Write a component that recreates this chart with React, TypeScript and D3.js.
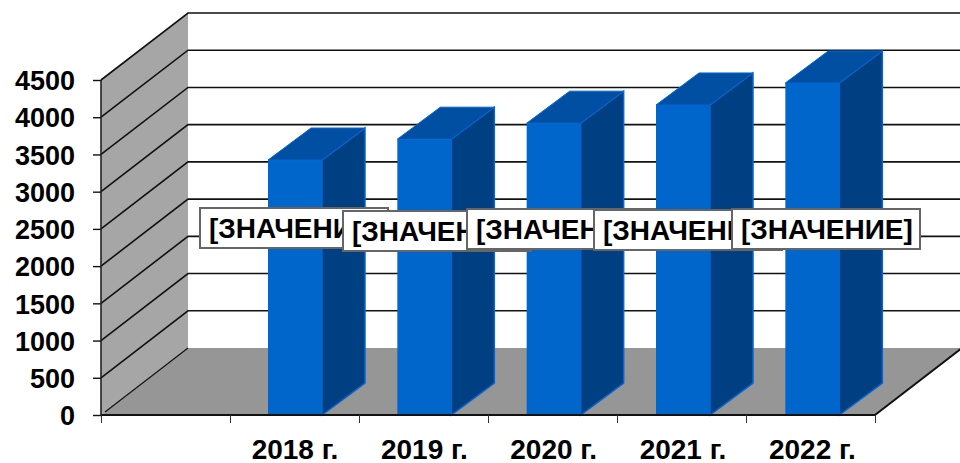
import React, { useEffect, useRef } from 'react'
import * as d3 from 'd3'

const categories = ['', '2018 г.', '2019 г.', '2020 г.', '2021 г.', '2022 г.']
const values = [3425, 3705, 3920, 4165, 4460]
const years = categories.slice(1)
const yTicks = [0, 500, 1000, 1500, 2000, 2500, 3000, 3500, 4000, 4500]
const labelText = '[ЗНАЧЕНИЕ]'

// chart geometry
const left = 101
const right = 875
const bottom = 415
const top = 80
const depthX = 87
const depthY = 67
const barWidth = 54
const barDepthX = 43
const barDepthY = 32
const labelLefts = [200, 343, 467, 594, 732]
const labelTops = [208, 211, 209, 210, 209]
const labelWidth = 188
const labelHeight = 40
const font = '"Liberation Sans", Arial, sans-serif'

export default function App() {
  const svgRef = useRef<SVGSVGElement>(null)

  useEffect(() => {
    const svg = d3.select(svgRef.current)
    svg.selectAll('*').remove()

    const yScale = d3.scaleLinear().domain([0, 4500]).range([bottom, top])
    const xScale = d3.scaleBand().domain(categories).range([left, right + 2])
    const edgeScale = d3.scaleLinear().domain([0, categories.length]).range([left, right])
    const line = d3.line()

    // side wall and floor
    svg.append('path')
      .attr('d', line([[left, top], [left + depthX, top - depthY], [left + depthX, bottom - depthY], [left, bottom]]) + 'Z')
      .attr('fill', '#a6a6a6')
    svg.append('path')
      .attr('d', line([[left, bottom], [left + depthX, bottom - depthY], [right + depthX, bottom - depthY], [right, bottom]]) + 'Z')
      .attr('fill', '#969696')

    // gridlines on both walls
    svg.selectAll('.grid')
      .data(yTicks.slice(1))
      .join('path')
      .attr('class', 'grid')
      .attr('d', d => line([[left, yScale(d)], [left + depthX, yScale(d) - depthY], [960, yScale(d) - depthY]]))
      .attr('fill', 'none')
      .attr('stroke', '#111')
      .attr('stroke-width', 1.6)
    svg.append('path')
      .attr('d', line([[left + 4, bottom - 3], [left + depthX, bottom - depthY]]))
      .attr('stroke', '#111')
      .attr('stroke-width', 1.2)
    svg.append('path')
      .attr('d', line([[right, bottom], [right + depthX, bottom - depthY]]))
      .attr('stroke', '#111')
      .attr('stroke-width', 2)

    // bars
    const bars = svg.selectAll('.bar')
      .data(values)
      .join('g')
      .attr('class', 'bar')
    const barX = (i: number) => xScale(years[i])! + (xScale.bandwidth() - barWidth) / 2

    bars.append('path')
      .attr('d', (d, i) => {
        const x = barX(i) + barWidth
        return line([[x, yScale(d)], [x + barDepthX, yScale(d) - barDepthY], [x + barDepthX, bottom - barDepthY], [x, bottom]]) + 'Z'
      })
      .attr('fill', '#003f82')
      .attr('stroke', '#0a64cf')
      .attr('stroke-width', 1.5)
    bars.append('path')
      .attr('d', (d, i) => {
        const x = barX(i)
        const y = yScale(d)
        return line([[x, y], [x + barDepthX, y - barDepthY], [x + barWidth + barDepthX, y - barDepthY], [x + barWidth, y]]) + 'Z'
      })
      .attr('fill', '#004fa3')
      .attr('stroke', '#0a64cf')
      .attr('stroke-width', 1)
    bars.append('rect')
      .attr('x', (d, i) => barX(i))
      .attr('y', d => yScale(d))
      .attr('width', barWidth)
      .attr('height', d => bottom - yScale(d))
      .attr('fill', '#0066cc')

    // axes
    const yAxis = d3.axisLeft(yScale).tickValues(yTicks).tickFormat(d3.format('d')).tickSize(24).tickPadding(2)
    const yG = svg.append('g').attr('transform', `translate(${left},0)`).call(yAxis)
    yG.selectAll('.tick line').attr('stroke', '#111').attr('stroke-width', 1.4).attr('x1', -8).attr('x2', 0)
    yG.selectAll('.tick text')
      .attr('x', -26)
      .attr('dy', '0.36em')
      .attr('fill', '#000')
      .style('font', `bold 27px ${font}`)
    yG.select('.domain').attr('stroke', '#222').attr('stroke-width', 1.6).attr('d', `M0,${top}V${bottom}`)

    const xAxis = d3.axisBottom(edgeScale).tickValues(d3.range(categories.length + 1)).tickSize(8).tickFormat(() => '')
    const xG = svg.append('g').attr('transform', `translate(0,${bottom})`).call(xAxis)
    xG.selectAll('.tick line').attr('stroke', '#333').attr('stroke-width', 1)
    xG.select('.domain').attr('stroke', '#111').attr('stroke-width', 2).attr('d', `M${left},0H${right}`)

    svg.selectAll('.cat')
      .data(years)
      .join('text')
      .attr('class', 'cat')
      .attr('x', d => xScale(d)! + xScale.bandwidth() / 2)
      .attr('y', 459)
      .attr('text-anchor', 'middle')
      .style('font', `bold 28px ${font}`)
      .text(d => d)

    // data labels, each later box covers the previous text
    const labels = svg.selectAll('.label')
      .data(values)
      .join('g')
      .attr('class', 'label')
      .attr('transform', (d, i) => `translate(${labelLefts[i]},${labelTops[i]})`)
    labels.append('rect')
      .attr('width', labelWidth)
      .attr('height', labelHeight)
      .attr('fill', '#fff')
      .attr('stroke', '#666')
      .attr('stroke-width', 2)
    labels.append('text')
      .attr('x', 9)
      .attr('y', 30)
      .style('font', `bold 28px ${font}`)
      .text(labelText)
  }, [])

  return (
    <svg
      ref={svgRef}
      width={960}
      height={463}
      style={{ position: 'absolute', left: 0, top: 0, background: '#fff' }}
    />
  )
}
